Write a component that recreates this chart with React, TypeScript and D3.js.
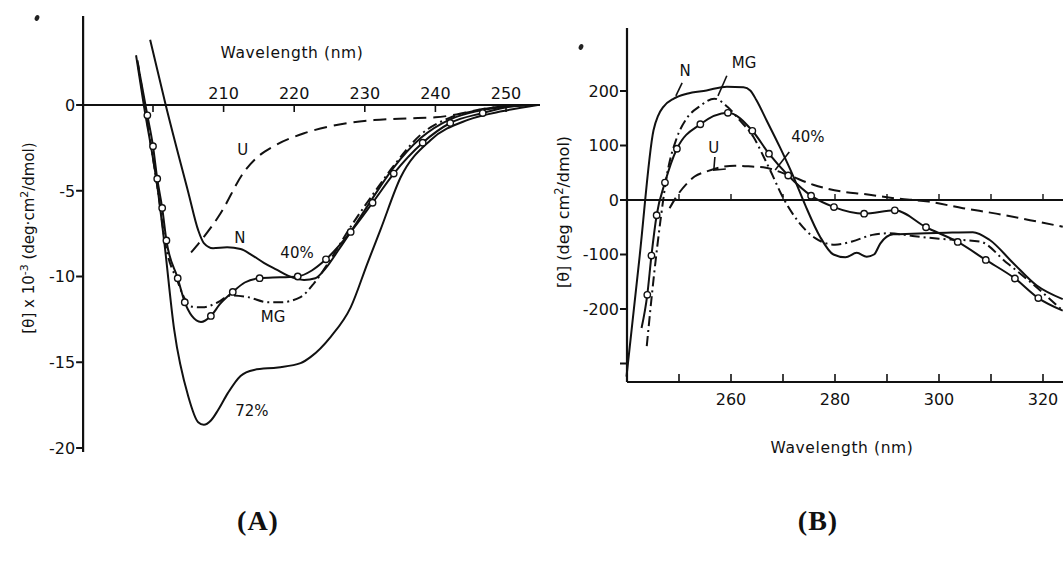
import React from "react";
import * as d3 from "d3";

// ---------- Panel A: far-UV CD, [θ] x 10^-3 ----------
const aTicksX = [200, 210, 220, 230, 240, 250];
const aTickLabelsX = [210, 220, 230, 240, 250];
const aTicksY = [0, -5, -10, -15, -20];

const aN_wl = [199.6, 201.8, 205, 206.4, 207.2, 208.5, 210.5, 212.4, 214, 215.7, 217.5, 219.1, 221.4, 223, 224.5, 226.2, 228, 231, 234, 238, 242, 246, 250, 254];
const aN_th = [3.8, 0, -5.1, -7.3, -8.05, -8.35, -8.3, -8.4, -8.75, -9.2, -9.6, -9.95, -10.2, -10.1, -9.5, -8.5, -7.4, -5.5, -3.7, -1.9, -0.85, -0.35, -0.1, 0];

const a72_wl = [197.6, 198.7, 200.7, 201.6, 203, 205, 206.4, 207.2, 208.2, 209.2, 210.6, 212.4, 214.3, 217.7, 220.9, 222.3, 225.2, 228, 230.4, 232.2, 235.1, 239.3, 244.6, 249.6, 254.5];
const a72_th = [2.9, 0, -5, -8, -13.1, -17, -18.5, -18.65, -18.4, -17.8, -16.8, -15.8, -15.45, -15.3, -15.05, -14.7, -13.5, -11.8, -9.2, -7.3, -4.2, -2.05, -0.87, -0.35, 0];

const aMG_wl = [197.8, 198.8, 200.7, 201.8, 203.5, 204.5, 205.4, 207, 209.2, 211, 213.4, 216.3, 218.1, 220.9, 222.8, 225, 228, 231, 234, 238, 242, 246, 250];
const aMG_th = [2.6, 0, -5, -8.2, -10.3, -11.3, -11.75, -11.8, -11.5, -11.1, -11.2, -11.5, -11.5, -11.2, -10.4, -9.1, -7.1, -5.3, -3.6, -1.7, -0.75, -0.3, -0.05];

const a40_wl = [197.9, 199.2, 200, 200.6, 201.3, 201.9, 203.5, 204.5, 205.5, 206.8, 208.2, 209.5, 211.3, 213, 215.1, 218, 220.5, 222.5, 224.5, 228, 231.1, 234.1, 238.2, 242.1, 246.7, 250.5, 254];
const a40_th = [2.3, -0.6, -2.4, -4.3, -6.0, -7.9, -10.1, -11.5, -12.3, -12.65, -12.3, -11.6, -10.9, -10.35, -10.1, -10.05, -10.0, -9.65, -9.0, -7.4, -5.7, -4.0, -2.2, -1.05, -0.47, -0.1, 0];
const a40_mark = [0, 1, 1, 1, 1, 1, 1, 1, 0, 0, 1, 0, 1, 0, 1, 0, 1, 0, 1, 1, 1, 1, 1, 1, 1, 0, 0];

const aU_wl = [205.4, 209.6, 212.9, 214.9, 217.1, 221.4, 226.2, 231.3, 236, 240, 243, 246.5, 250];
const aU_th = [-8.6, -6.3, -3.9, -3.0, -2.4, -1.65, -1.15, -0.88, -0.78, -0.72, -0.55, -0.25, -0.05];

const aLabels = ["U", "N", "40%", "MG", "72%"];
const aLabel_wl = [212.7, 212.3, 220.4, 217, 214];
const aLabel_th = [-2.6, -7.75, -8.6, -12.35, -17.8];

// ---------- Panel B: near-UV CD, [θ] ----------
const bTicksX = [250, 260, 270, 280, 290, 300, 310, 320];
const bTickLabelsX = [260, 280, 300, 320];
const bTicksY = [200, 100, 0, -100, -200, -300];
const bTickLabelsY = [200, 100, 0, -100, -200];

const bN_wl = [239.9, 242.4, 245.1, 246, 247, 249, 251.5, 255.3, 259.2, 262.4, 263.7, 264.9, 266.9, 269.4, 272, 274.3, 277.1, 279.7, 282, 284.2, 286.1, 287.5, 288.7, 291.2, 294.9, 301.4, 306.5, 309.7, 314.2, 318.8, 323.8];
const bN_th = [-324, -106, 128, 155, 171, 186, 195, 201, 208, 207, 201, 183, 145, 97, 43, -10, -67, -100, -105, -97, -104, -100, -80, -63, -62, -60, -59, -73, -115, -157, -182];

const b40_wl = [242.8, 243.9, 244.7, 245.7, 247.3, 249.6, 254.1, 259.4, 264.1, 267.3, 271, 275.4, 279.8, 285.6, 291.5, 297.5, 303.6, 309, 314.6, 319.1, 323.8];
const b40_th = [-235, -174, -102, -28, 32, 94, 139, 160, 127, 85, 45, 8, -13, -25, -19, -50, -77, -110, -144, -180, -203];
const b40_mark = [0, 1, 1, 1, 1, 1, 1, 1, 1, 1, 1, 1, 1, 1, 1, 1, 1, 1, 1, 1, 0];

const bMG_wl = [243.8, 245.2, 246.5, 247.7, 249.5, 251.5, 254, 256.8, 259.3, 261.7, 264.3, 266.3, 268.1, 269.7, 272.9, 276.2, 280, 283.3, 287.2, 290.4, 294.9, 300, 307.8, 313, 317.5, 323.8];
const bMG_th = [-268, -137, -33, 47, 112, 150, 172, 186, 171, 146, 116, 79, 43, 10, -39, -70, -82, -76, -64, -61, -66, -71, -76, -115, -150, -203];

const bU_wl = [248.2, 249.3, 251.6, 253, 255.5, 258, 260.7, 264.5, 266.2, 270.7, 275.8, 281.6, 285.5, 291.7, 298, 304.6, 311, 317.5, 323.8];
const bU_th = [-15, 3, 31, 43, 53, 60, 63, 61, 60, 47, 28, 15, 11, 3, -3, -15, -25, -37, -49];

const bLabels = ["N", "MG", "40%", "U"];
const bLabel_wl = [251.2, 262.5, 274.8, 256.7];
const bLabel_th = [237, 253, 116, 97];
// leader lines from label to curve, as [wl, θ] pairs
const bLeaders: [number, number][][] = [
  [[250.6, 215], [249.4, 191]],
  [[259.2, 228], [257.5, 191]],
  [[271.2, 88], [268.5, 55]],
  [[256.9, 79], [256.7, 55], [259, 57]],
];

const FONT = "'DejaVu Sans', sans-serif";

type Sx = d3.ScaleLinear<number, number>;

function Curve({ wl, th, x, y, dash, marks }: { wl: number[]; th: number[]; x: Sx; y: Sx; dash?: string; marks?: number[] }) {
  const line = d3
    .line<number>()
    .x((_, i) => x(wl[i]))
    .y((d) => y(d))
    .curve(d3.curveMonotoneX);
  return (
    <g>
      <path d={line(th) || ""} fill="none" stroke="#111" strokeWidth={2} strokeDasharray={dash} strokeLinejoin="round" />
      {marks &&
        th.map((t, i) =>
          marks[i] ? <circle key={i} cx={x(wl[i])} cy={y(t)} r={3.2} fill="#fff" stroke="#111" strokeWidth={1.4} /> : null
        )}
    </g>
  );
}

function PanelA() {
  const x = d3.scaleLinear().domain([200, 250]).range([153, 506]);
  const y = d3.scaleLinear().domain([0, -20]).range([105, 448]);
  const axisX = x(190.1);
  return (
    <g fontFamily={FONT} fill="#111">
      {/* corner mark of the scan */}
      <ellipse cx={37} cy={18} rx={2.2} ry={3} fill="#222" transform="rotate(25,37,18)" />
      {/* y axis */}
      <line x1={axisX} x2={axisX} y1={16} y2={452} stroke="#111" strokeWidth={2.2} />
      {aTicksY.map((t) => (
        <g key={t}>
          <line x1={axisX - 7} x2={axisX} y1={y(t)} y2={y(t)} stroke="#111" strokeWidth={2} />
          <text x={axisX - 8} y={y(t)} dy="0.36em" textAnchor="end" fontSize={16}>
            {t === 0 ? "0" : "-" + Math.abs(t)}
          </text>
        </g>
      ))}
      {/* zero line with wavelength ticks */}
      <line x1={axisX} x2={540} y1={y(0)} y2={y(0)} stroke="#111" strokeWidth={2.2} />
      {aTicksX.map((t) => (
        <line key={t} x1={x(t)} x2={x(t)} y1={y(0)} y2={y(0) + 7} stroke="#111" strokeWidth={1.6} />
      ))}
      {aTickLabelsX.map((t) => (
        <text key={t} x={x(t)} y={y(0) - 6} textAnchor="middle" fontSize={16}>
          {t}
        </text>
      ))}
      <text x={292} y={58} textAnchor="middle" fontSize={15.5} letterSpacing={0.6}>
        Wavelength (nm)
      </text>
      <text transform="translate(34,238) rotate(-90)" textAnchor="middle" fontSize={15}>
        [θ] x 10<tspan dy={-6} fontSize={11}>-3</tspan>
        <tspan dy={6}> (deg·cm</tspan>
        <tspan dy={-6} fontSize={11}>2</tspan>
        <tspan dy={6}>/dmol)</tspan>
      </text>

      <Curve wl={aU_wl} th={aU_th} x={x} y={y} dash="13,7" />
      <Curve wl={aMG_wl} th={aMG_th} x={x} y={y} dash="10,4,2,4" />
      <Curve wl={a72_wl} th={a72_th} x={x} y={y} />
      <Curve wl={aN_wl} th={aN_th} x={x} y={y} />
      <Curve wl={a40_wl} th={a40_th} x={x} y={y} marks={a40_mark} />

      {aLabels.map((l, i) => (
        <text key={l} x={x(aLabel_wl[i])} y={y(aLabel_th[i])} dy="0.36em" textAnchor="middle" fontSize={15}>
          {l}
        </text>
      ))}
      <text x={258} y={530} textAnchor="middle" fontSize={28} fontWeight="bold" letterSpacing={1} fontFamily="'Liberation Serif', serif">
        (A)
      </text>
    </g>
  );
}

function PanelB() {
  const x = d3.scaleLinear().domain([260, 320]).range([731, 1043]);
  const y = d3.scaleLinear().domain([-200, 200]).range([309, 91]);
  const axisX = 627;
  const baseY = 382;
  const leader = d3
    .line<[number, number]>()
    .x((d) => x(d[0]))
    .y((d) => y(d[1]));
  return (
    <g fontFamily={FONT} fill="#111">
      <ellipse cx={581} cy={47} rx={2.2} ry={3} fill="#222" transform="rotate(25,581,47)" />
      <line x1={axisX} x2={axisX} y1={28} y2={baseY} stroke="#111" strokeWidth={2.2} />
      <line x1={axisX} x2={1063} y1={baseY} y2={baseY} stroke="#111" strokeWidth={2.2} />
      {bTicksY.map((t) => (
        <line key={t} x1={axisX - 7} x2={axisX} y1={y(t)} y2={y(t)} stroke="#111" strokeWidth={2} />
      ))}
      {bTickLabelsY.map((t) => (
        <text key={t} x={axisX - 8} y={y(t)} dy="0.36em" textAnchor="end" fontSize={16}>
          {t < 0 ? "-" + Math.abs(t) : t}
        </text>
      ))}
      {bTicksX.map((t) => (
        <g key={t}>
          <line x1={x(t)} x2={x(t)} y1={baseY} y2={baseY - 8} stroke="#111" strokeWidth={1.6} />
          <line x1={x(t)} x2={x(t)} y1={y(0)} y2={y(0) - 6} stroke="#111" strokeWidth={1.4} />
        </g>
      ))}
      {bTickLabelsX.map((t) => (
        <text key={t} x={x(t)} y={baseY + 23} textAnchor="middle" fontSize={16}>
          {t}
        </text>
      ))}
      <line x1={axisX} x2={1063} y1={y(0)} y2={y(0)} stroke="#111" strokeWidth={1.8} />
      <text x={842} y={453} textAnchor="middle" fontSize={15.5} letterSpacing={0.6}>
        Wavelength (nm)
      </text>
      <text transform="translate(569,212) rotate(-90)" textAnchor="middle" fontSize={16}>
        [θ] (deg cm<tspan dy={-6} fontSize={11.5}>2</tspan>
        <tspan dy={6}>/dmol)</tspan>
      </text>

      <Curve wl={bU_wl} th={bU_th} x={x} y={y} dash="12,6" />
      <Curve wl={bMG_wl} th={bMG_th} x={x} y={y} dash="10,4,2,4" />
      <Curve wl={bN_wl} th={bN_th} x={x} y={y} />
      <Curve wl={b40_wl} th={b40_th} x={x} y={y} marks={b40_mark} />

      {bLeaders.map((pts, i) => (
        <path key={i} d={leader(pts) || ""} fill="none" stroke="#111" strokeWidth={1.6} />
      ))}
      {bLabels.map((l, i) => (
        <text key={l} x={x(bLabel_wl[i])} y={y(bLabel_th[i])} dy="0.36em" textAnchor="middle" fontSize={15}>
          {l}
        </text>
      ))}
      <text x={818} y={530} textAnchor="middle" fontSize={28} fontWeight="bold" letterSpacing={1} fontFamily="'Liberation Serif', serif">
        (B)
      </text>
    </g>
  );
}

export default function App() {
  return (
    <svg width={1063} height={568} style={{ position: "absolute", left: 0, top: 0, background: "#fff" }}>
      <rect width={1063} height={568} fill="#fff" />
      <PanelA />
      <PanelB />
    </svg>
  );
}
